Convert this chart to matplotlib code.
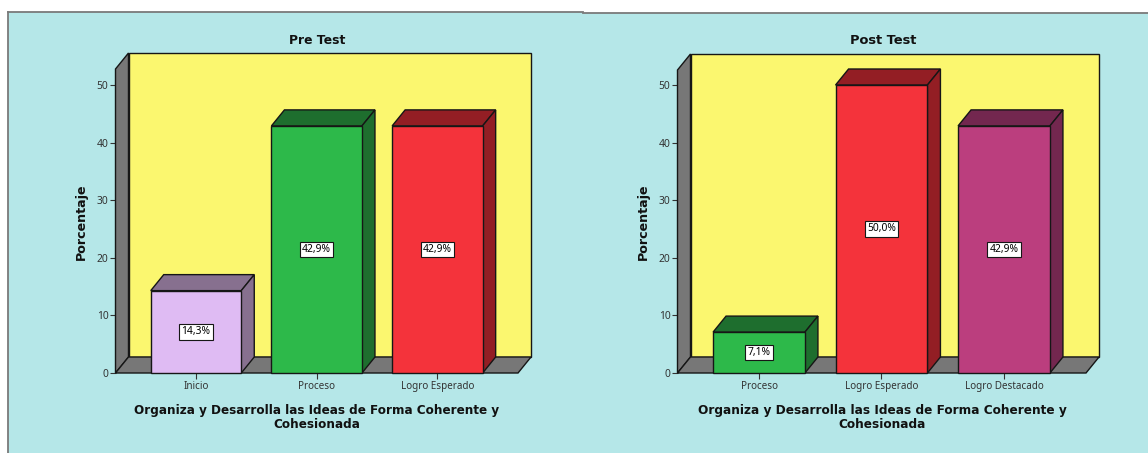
import matplotlib
matplotlib.use('Agg')
import matplotlib.pyplot as plt
from matplotlib.patches import Polygon, Rectangle
from matplotlib.lines import Line2D

pre_labels = ['Inicio', 'Proceso', 'Logro Esperado']
pre_values = [14.3, 42.9, 42.9]
pre_text = ['14,3%', '42,9%', '42,9%']
pre_colors = ['#DFBBF3', '#2DB94A', '#F4333B']
pre_sides = ['#87708F', '#1E6E2E', '#931E24']

post_labels = ['Proceso', 'Logro Esperado', 'Logro Destacado']
post_values = [7.1, 50.0, 42.9]
post_text = ['7,1%', '50,0%', '42,9%']
post_colors = ['#2DB94A', '#F4333B', '#BB3E7E']
post_sides = ['#1E6E2E', '#931E24', '#73274F']

y_ticks = [0, 10, 20, 30, 40, 50]
x_title = 'Organiza y Desarrolla las Ideas de Forma Coherente y\nCohesionada'

W, H = 1148, 453
BG = '#B5E7E8'
YELLOW = '#FBF76F'
GREY = '#777777'
EDGE = '#161616'
FONT = 'Noto Sans'
BOLD = 'DejaVu Sans'
PX_PER_UNIT = 5.76
DX_PX, DY_PX = 13, 16

plt.rcParams['font.family'] = FONT
fig = plt.figure(figsize=(W / 100, H / 100), dpi=100, facecolor='white')


def px_rect(x0, y0, x1, y1, **kw):
    fig.add_artist(Rectangle((x0 / W, 1 - y1 / H), (x1 - x0) / W, (y1 - y0) / H,
                             transform=fig.transFigure, zorder=-5, **kw))


def px_line(x0, y0, x1, y1, color='#7A7A7A', lw=1.3):
    fig.add_artist(Line2D([x0 / W, x1 / W], [1 - y0 / H, 1 - y1 / H],
                          transform=fig.transFigure, color=color, lw=lw, zorder=-4))


# background of the two panels
px_rect(8, 12, 583, H, facecolor=BG, edgecolor='none')
px_rect(583, 13, W, H, facecolor=BG, edgecolor='none')
px_line(8, 12, 583, 12)
px_line(583, 13, W, 13)
px_line(8, 12, 8, H)


def draw_chart(left, right, top, bottom, first_x, spacing, bar_w,
               labels, values, texts, colors, sides, title, title_x, title_y, title_size,
               xtitle_x, xtitle_size):
    ax = fig.add_axes([left / W, 1 - bottom / H, (right - left) / W, (bottom - top) / H])
    ax.set_xlim((left - first_x) / spacing, (right - first_x) / spacing)
    ax.set_ylim(0, (bottom - top) / PX_PER_UNIT)
    ax.patch.set_visible(False)
    for s in ax.spines.values():
        s.set_visible(False)

    dx = DX_PX / spacing
    dy = DY_PX / PX_PER_UNIT
    x0, x1 = ax.get_xlim()
    y1 = ax.get_ylim()[1]
    lw = 1.0

    # back wall, side wall, floor
    ax.add_patch(Polygon([(x0 + dx, dy), (x1 + dx, dy), (x1 + dx, y1 + dy), (x0 + dx, y1 + dy)],
                         fc=YELLOW, ec=EDGE, lw=lw, clip_on=False, zorder=1))
    ax.add_patch(Polygon([(x0, 0), (x0 + dx, dy), (x0 + dx, y1 + dy), (x0, y1)],
                         fc=GREY, ec=EDGE, lw=lw, clip_on=False, zorder=2))
    ax.add_patch(Polygon([(x0, 0), (x1, 0), (x1 + dx, dy), (x0 + dx, dy)],
                         fc=GREY, ec=EDGE, lw=lw, clip_on=False, zorder=2))

    # bars with top and side faces
    for i, v in enumerate(values):
        a, b = i - bar_w / 2, i + bar_w / 2
        ax.add_patch(Polygon([(a, v), (b, v), (b + dx, v + dy), (a + dx, v + dy)],
                             fc=sides[i], ec=EDGE, lw=lw, clip_on=False, zorder=3))
        ax.add_patch(Polygon([(b, 0), (b + dx, dy), (b + dx, v + dy), (b, v)],
                             fc=sides[i], ec=EDGE, lw=lw, clip_on=False, zorder=3))
        ax.bar(i, v, width=bar_w, color=colors[i], edgecolor=EDGE, linewidth=lw,
               clip_on=False, zorder=4)
        ax.text(i, v / 2, texts[i], ha='center', va='center', fontsize=7.4, color='black',
                zorder=5, bbox=dict(boxstyle='square,pad=0.22', fc='white', ec=EDGE, lw=0.8))

    ax.set_xticks(range(len(labels)))
    ax.set_xticklabels(labels, fontsize=7.1, color='#333333')
    ax.set_yticks(y_ticks)
    ax.set_yticklabels([str(t) for t in y_ticks], fontsize=7.4, color='#333333')
    ax.tick_params(axis='x', length=4, width=0.8, color='#333333', pad=2)
    ax.tick_params(axis='y', length=4, width=0.8, color='#333333', pad=1)

    fig.text(title_x / W, 1 - title_y / H, title, fontsize=title_size, fontweight='bold',
             family=BOLD, ha='center', va='center', color='#111111')
    fig.text(xtitle_x / W, 1 - 417.5 / H, x_title, fontsize=xtitle_size, fontweight='bold',
             family=BOLD, ha='center', va='center', color='#111111', linespacing=1.05)
    fig.text((left - 34) / W, 1 - 222 / H, 'Porcentaje', fontsize=9.1, fontweight='bold',
             family=BOLD, rotation=90, ha='center', va='center', color='#111111')


draw_chart(115.5, 518, 69, 373, 196, 120.7, 0.75,
           pre_labels, pre_values, pre_text, pre_colors, pre_sides,
           'Pre Test', 317.5, 41, 8.95, 316.5, 8.65)
draw_chart(677.5, 1086, 70, 373, 759, 122.5, 0.75,
           post_labels, post_values, post_text, post_colors, post_sides,
           'Post Test', 883.5, 40, 9.35, 882, 8.75)

fig.savefig('out.png', dpi=100, facecolor='white')
